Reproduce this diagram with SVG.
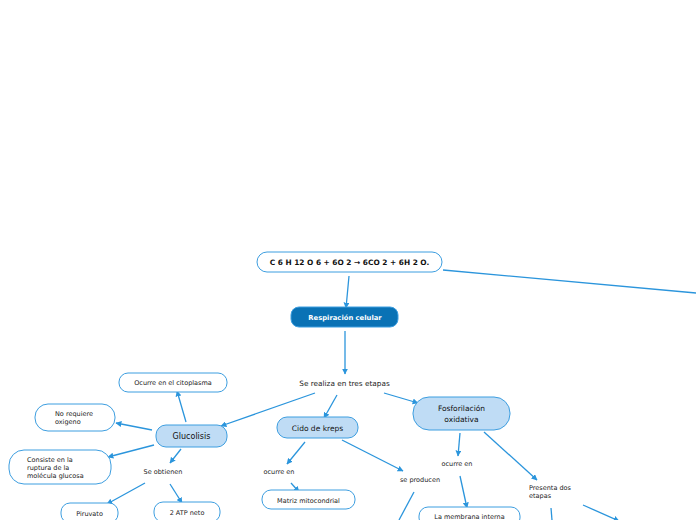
<svg xmlns="http://www.w3.org/2000/svg" width="696" height="520" viewBox="0 0 696 520">
<defs>
<marker id="ah" viewBox="0 0 10 10" refX="9" refY="5" markerWidth="6" markerHeight="6" orient="auto" markerUnits="userSpaceOnUse">
<path d="M0,0 L10,5 L0,10 z" fill="#2b95dc"/>
</marker>
<style>
.w{fill:#fff;stroke:#3d9ee0;stroke-width:1}
.lb{fill:#bfdcf5;stroke:#3d9ee0;stroke-width:1}
.dk{fill:#0a72b5;stroke:#3d9ee0;stroke-width:1}
.t{font-family:"DejaVu Sans",Verdana,sans-serif;font-size:6.5px;fill:#222}
.c{text-anchor:middle}
.h{font-family:"DejaVu Sans",Verdana,sans-serif;font-size:8px;fill:#111;text-anchor:middle}
.b{font-family:"DejaVu Sans",Verdana,sans-serif;font-size:6.8px;font-weight:bold;text-anchor:middle}
.cn line{stroke:#2b95dc;stroke-width:1.3}
.cn .a{marker-end:url(#ah)}
</style>
</defs>
<rect width="696" height="520" fill="#fff"/>
<g class="cn" id="connectors">
<line class="a" x1="349" y1="276" x2="346" y2="308"/>
<line x1="443" y1="270" x2="696" y2="293"/>
<line class="a" x1="345" y1="331" x2="345" y2="374"/>
<line class="a" x1="315" y1="393" x2="221" y2="426"/>
<line class="a" x1="337" y1="395" x2="324" y2="418"/>
<line class="a" x1="384" y1="393" x2="418" y2="403"/>
<line class="a" x1="186" y1="422" x2="177" y2="391"/>
<line class="a" x1="152" y1="430" x2="116" y2="423"/>
<line class="a" x1="154" y1="445" x2="108" y2="457"/>
<line class="a" x1="181" y1="449" x2="170" y2="463"/>
<line class="a" x1="145" y1="483" x2="107" y2="504"/>
<line class="a" x1="170" y1="484" x2="182" y2="503"/>
<line class="a" x1="305" y1="442" x2="287" y2="464"/>
<line class="a" x1="291" y1="483" x2="299" y2="492"/>
<line class="a" x1="342" y1="440" x2="403" y2="471"/>
<line x1="414" y1="492" x2="399" y2="520"/>
<line class="a" x1="460" y1="433" x2="458" y2="456"/>
<line class="a" x1="460" y1="476" x2="467" y2="508"/>
<line class="a" x1="484" y1="432" x2="537" y2="480"/>
<line x1="551" y1="508" x2="552" y2="520"/>
<line class="a" x1="583" y1="505" x2="619" y2="521"/>
</g>
<g id="formula">
<rect class="w" x="257" y="252" width="185" height="20" rx="10"/>
<text class="b" x="349.5" y="264.5" fill="#111" style="font-size:7.4px">C 6 H 12 O 6 + 6O 2 → 6CO 2 + 6H 2 O.</text>
</g>
<g id="respiracion">
<rect class="dk" x="291" y="307" width="107" height="20" rx="8"/>
<text class="b" x="345" y="319.5" fill="#fff">Respiración celular</text>
</g>
<g id="etapas"><text class="t c" x="344.5" y="386" style="font-size:7.3px">Se realiza en tres etapas</text></g>
<g id="glucolisis">
<rect class="lb" x="156" y="425" width="71" height="22" rx="10"/>
<text class="h" x="191.5" y="439">Glucolisis</text>
</g>
<g id="citoplasma">
<rect class="w" x="119" y="373" width="108" height="19" rx="9"/>
<text class="t c" x="173" y="384.5">Ocurre en el citoplasma</text>
</g>
<g id="oxigeno">
<rect class="w" x="35" y="404" width="80" height="27" rx="13"/>
<text class="t" x="55" y="416">No requiere</text>
<text class="t" x="55" y="424">oxigeno</text>
</g>
<g id="consiste">
<rect class="w" x="9" y="450" width="102" height="34" rx="15"/>
<text class="t" x="27" y="462">Consiste en la</text>
<text class="t" x="27" y="470">ruptura de la</text>
<text class="t" x="27" y="478">molécula glucosa</text>
</g>
<g id="obtienen"><text class="t c" x="163" y="474">Se obtienen</text></g>
<g id="piruvato">
<rect class="w" x="61" y="503" width="57" height="20" rx="9"/>
<text class="t c" x="89.5" y="516">Piruvato</text>
</g>
<g id="atp">
<rect class="w" x="154" y="502" width="66" height="20" rx="9"/>
<text class="t c" x="187" y="515">2 ATP neto</text>
</g>
<g id="krebs">
<rect class="lb" x="277" y="417" width="81" height="21" rx="10"/>
<text class="h" x="317.5" y="431" style="font-size:7.5px">Cido de kreps</text>
</g>
<g id="ocurre1"><text class="t c" x="279" y="474">ocurre en</text></g>
<g id="matriz">
<rect class="w" x="262" y="490" width="93" height="19" rx="9"/>
<text class="t c" x="308.5" y="502.5">Matriz mitocondrial</text>
</g>
<g id="producen"><text class="t c" x="420" y="482">se producen</text></g>
<g id="fosforilacion">
<rect class="lb" x="413" y="397" width="97" height="33" rx="16"/>
<text class="h" x="461.5" y="411" style="font-size:7.5px">Fosforilación</text>
<text class="h" x="461.5" y="422" style="font-size:7.5px">oxidativa</text>
</g>
<g id="ocurre2"><text class="t c" x="457" y="466">ocurre en</text></g>
<g id="membrana">
<rect class="w" x="419" y="507" width="101" height="20" rx="9"/>
<text class="t c" x="469.5" y="519">La membrana interna</text>
</g>
<g id="presenta">
<text class="t" x="529" y="490">Presenta dos</text>
<text class="t" x="529" y="498">etapas</text>
</g>
</svg>
